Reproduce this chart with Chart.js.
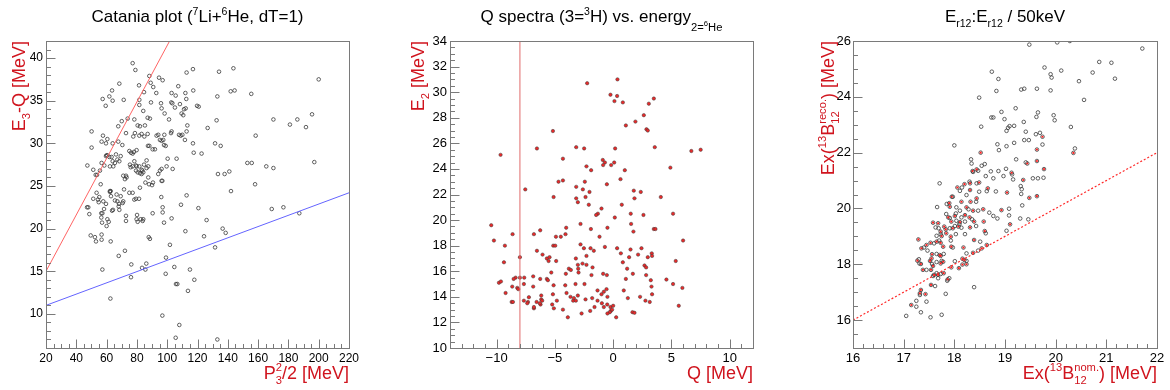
<!DOCTYPE html>
<html><head><meta charset="utf-8">
<script src="https://cdn.jsdelivr.net/npm/chart.js@4.4.1/dist/chart.umd.min.js"></script>
<style>
html,body{margin:0;padding:0;background:#fff;}
#wrap{position:relative;width:1170px;height:390px;overflow:hidden;}
canvas{position:absolute;top:0;}
</style></head><body>
<div id="wrap">
<canvas id="c1" width="390" height="390" style="left:0px"></canvas>
<canvas id="c2" width="390" height="390" style="left:390px"></canvas>
<canvas id="c3" width="390" height="390" style="left:780px"></canvas>
</div>
<script>
// ---------------- DATA ----------------
// Panel 1: Catania plot  [P3^2/2 (MeV), E3-Q (MeV)]
const catania = [
[57.4,35.2],[59.4,34.4],[61.8,35.5],[63.6,36.2],[64.0,35.0],[68.4,37.0],[71.3,35.1],[77.2,39.4],[79.0,38.6],[81.4,36.8],[81.6,35.1],[81.6,34.5],[84.7,36.0],[84.2,33.8],[88.2,37.9],[89.1,37.1],[88.6,32.9],[89.3,34.8],[90.8,36.6],[92.8,35.9],[94.6,37.7],[97.0,37.4],[95.9,34.7],[96.3,34.1],[98.3,33.5],[101.2,32.8],[102.9,35.9],[102.7,34.8],[103.4,34.7],[105.6,35.6],[105.1,34.2],[107.3,36.7],[108.4,34.6],[109.5,33.5],[110.6,33.3],[111.1,34.0],[112.6,35.2],[112.8,38.3],[112.0,35.9],[112.2,34.1],[113.3,32.1],[117.0,38.7],[117.2,36.2],[119.7,34.4],[120.8,34.3],[126.7,31.8],[132.6,32.7],[133.1,35.5],[134.2,38.4],[141.9,36.1],[143.7,38.8],[144.5,36.2],[155.5,35.8],[170.1,32.8],[181.0,32.2],[185.9,32.8],[191.6,31.9],[195.6,33.4],[200.0,37.5],
[67.7,32.0],[70.0,32.6],[73.9,32.9],[78.3,32.8],[80.5,32.1],[82.0,32.0],[85.3,32.1],[87.1,33.0],
[50.1,31.4],[50.1,29.5],[56.7,30.2],[57.6,30.9],[59.6,30.0],[60.5,30.5],[64.0,30.0],[67.7,30.2],[70.4,29.8],[72.8,31.2],[75.0,29.1],[76.1,28.9],[77.2,28.8],[78.1,29.0],[79.8,29.2],[78.7,31.2],[77.6,30.8],[81.6,30.9],[83.1,31.1],[84.9,30.8],[87.1,31.1],[87.3,29.7],[88.2,29.7],[90.4,29.3],[91.9,29.3],[93.0,30.9],[94.1,31.0],[95.2,30.4],[96.3,30.3],[97.4,30.4],[97.9,29.8],[98.1,31.0],[99.0,29.7],[100.3,28.2],[102.5,31.2],[102.9,31.4],[106.2,28.2],[107.8,31.0],[108.9,30.9],[110.0,31.0],[111.7,30.4],[112.8,31.4],[117.0,30.0],[117.5,28.9],[122.7,28.8],[131.6,30.0],[135.3,29.7],[158.4,30.9],
[47.3,27.4],[51.2,26.9],[52.8,26.3],[53.7,26.3],[55.6,26.8],[56.7,27.7],[58.5,27.4],[59.6,28.5],[60.0,28.6],[60.5,28.6],[61.8,28.4],[62.2,27.3],[63.3,28.4],[64.0,27.9],[64.4,27.3],[65.5,27.7],[66.2,28.7],[67.1,28.1],[68.4,27.9],[69.3,28.5],[71.0,26.2],[72.1,25.8],[72.8,26.2],[73.2,26.0],[75.4,27.5],[75.9,27.2],[77.2,27.3],[78.3,27.9],[79.4,27.4],[79.4,26.8],[79.8,27.3],[80.5,26.6],[81.6,27.3],[82.0,26.5],[83.1,26.4],[83.1,26.9],[83.6,26.8],[84.2,26.6],[84.7,27.5],[86.4,27.1],[87.5,26.0],[88.0,25.2],[90.0,25.1],[90.6,25.4],[87.5,27.3],[85.6,25.4],[94.1,26.4],[95.2,26.8],[96.3,27.0],[96.3,25.6],[96.8,25.6],[99.6,27.3],[103.6,27.0],[86.4,28.0],
[47.1,22.5],[47.9,22.5],[48.6,21.7],[51.2,23.5],[53.4,24.2],[54.3,23.4],[54.8,23.1],[55.2,23.7],[56.1,25.2],[56.5,21.8],[56.5,21.3],[57.0,20.7],[57.2,21.8],[57.8,23.2],[58.3,22.3],[59.6,22.9],[60.0,20.3],[60.5,21.1],[61.4,20.8],[62.2,24.4],[62.9,23.8],[63.6,22.1],[64.2,22.2],[65.5,23.3],[66.6,24.0],[67.1,23.2],[68.0,22.6],[68.2,22.9],[68.4,22.2],[69.3,23.8],[70.6,23.0],[71.0,23.2],[71.5,24.6],[72.8,20.9],[75.0,24.2],[77.2,24.2],[78.3,23.4],[79.4,23.5],[79.8,21.1],[80.1,21.6],[80.5,20.8],[81.4,23.5],[82.0,24.8],[82.5,21.1],[83.8,20.9],[84.2,21.1],[87.8,19.0],[88.6,18.8],[90.4,21.8],[96.1,23.7],[97.0,22.5],[97.0,21.9],[97.9,20.7],[101.8,18.1],[102.9,21.2],[109.1,22.8],[112.0,19.7],[112.8,23.9],[120.6,22.4],[124.3,19.1],[126.0,21.0],[131.6,17.8],[136.6,20.0],[138.6,19.5],[142.1,24.4],[152.9,27.7],[155.8,27.7],[158.0,25.2],[165.4,27.3],[170.1,27.1],[169.0,22.3],[176.7,22.5],[187.2,21.8],[197.1,27.8],[133.5,26.4],[137.9,26.4],[141.0,26.7],[72.8,21.5],[62.2,24.3],[62.7,24.4],
[49.5,19.2],[52.3,19.0],[53.0,18.5],[56.7,18.7],[56.7,19.3],[62.7,18.5],[68.0,16.8],[72.1,17.4],[99.2,16.6],
[57.2,15.2],[62.5,11.8],[76.3,15.8],[76.1,14.3],[83.4,15.4],[85.6,15.2],[86.2,15.9],[96.8,9.8],[99.0,14.7],[104.7,15.5],[105.8,13.5],[106.7,13.5],[108.0,8.7],[105.6,7.2],[113.7,12.7],[115.0,15.2],[117.9,14.0],[133.1,7.0]
];
const cataniaRedLine = [[20,15.0],[101.6,42.0]];
const cataniaBlueLine = [[20,11.0],[220,24.2]];
const cataniaXTicks = [20,40,60,80,100,120,140,160,180,200,220];
const cataniaYTicks = [10,15,20,25,30,35,40];

// Panel 2: Q spectra  [Q (MeV), E2 (MeV)]
const qSpectra = [
[-2.23,30.7],[0.37,31.0],[-0.23,29.8],[0.34,29.7],[0.11,29.3],[0.83,29.2],[3.06,29.1],[3.49,29.5],[2.63,28.2],[1.91,27.7],[1.09,27.4],[-5.17,26.96],[2.86,27.1],[2.97,27.0],
[-9.66,25.1],[-6.54,25.6],[-4.31,24.8],[-3.17,25.7],[-2.49,25.6],[0.17,25.6],[3.57,25.7],[6.71,25.4],[7.51,25.5],[-7.54,22.4],[-5.11,21.8],[-4.69,23.0],[-4.31,23.1],[-3.17,22.6],[-2.43,23.0],[-2.6,22.4],[-2.03,22.2],[-3.17,21.7],[-2.37,21.8],[-3.03,21.4],[-2.09,21.2],[-1.0,20.9],[-1.31,20.5],[-1.46,20.4],[-2.29,24.2],[-1.89,23.9],[-0.89,24.7],[-0.71,24.5],[-0.86,24.3],[-0.17,24.3],[0.09,24.5],[1.0,23.9],[0.63,23.2],[-0.54,22.8],[1.77,22.3],[2.37,22.2],[1.83,21.7],[4.09,21.8],[0.74,21.2],[0.14,20.2],[1.51,20.5],[2.6,20.4],[4.91,24.1],[5.14,20.5],
[-2.8,19.7],[-1.91,19.3],[-0.49,19.4],[1.54,19.7],[1.74,19.1],[3.49,19.3],[3.63,19.3],[-1.17,18.7],[-4.91,18.7],[-4.49,18.7],[-4.09,18.9],[-4.03,19.4],[-6.26,19.2],[-6.8,18.9],[-8.63,18.9],[-10.46,19.6],[-10.23,18.4],[-9.29,18.0],[-5.14,18.0],[-4.97,18.0],[-2.8,18.1],[-2.51,17.8],[-1.94,17.8],[-1.66,17.6],[-0.71,17.9],[0.34,17.8],[1.49,17.7],[2.43,17.8],[6.0,18.4],[-6.54,17.6],[-6.06,17.3],[-5.69,17.0],[-5.46,17.1],[-8.0,17.1],[-3.2,17.0],[-2.29,17.2],[0.66,17.4],[1.37,17.1],[2.14,17.3],[2.97,17.1],[3.31,17.4],[3.34,17.2],
[-9.37,16.7],[-5.54,16.8],[-4.89,16.8],[0.83,16.7],[5.37,16.8],[-4.06,15.8],[-3.8,16.2],[-3.63,16.1],[-3.03,16.5],[-3.0,16.2],[-2.97,15.9],[-2.63,16.6],[-2.29,16.5],[-1.77,16.3],[-1.86,15.7],[-0.86,15.8],[-0.54,15.7],[1.2,16.2],[1.69,15.8],[2.69,16.45],[2.83,16.3],[2.83,15.7],[3.23,15.3],[1.09,15.4],[-5.31,15.9],[-5.69,15.4],[-5.6,15.3],[-6.26,15.4],[-6.86,15.6],[-7.63,15.5],[-8.0,15.5],[-8.37,15.5],[-8.54,15.4],[-9.8,15.1],[-9.63,15.2],[-9.23,14.3],[-8.66,14.8],[-8.23,14.7],[-8.14,14.6],[-7.66,15.0],[-6.86,14.8],[-5.11,14.9],[-4.11,14.9],[-3.23,15.0],[-2.46,15.0],
[-5.17,14.2],[-4.83,13.7],[-4.0,14.3],[-3.66,14.0],[-3.43,13.7],[-3.37,13.9],[-3.2,13.7],[-3.03,14.1],[-2.37,13.8],[-1.8,13.9],[-1.34,14.5],[-1.0,14.2],[-0.8,14.4],[-0.57,14.6],[-0.49,14.0],[-1.34,13.7],[-0.97,13.5],[-0.8,13.2],[-0.51,13.4],[-0.23,13.2],[0.0,13.3],[-0.2,12.9],[-0.09,13.0],[-0.29,12.8],[-0.49,12.7],[0.26,12.4],[0.91,14.5],[1.26,13.9],[1.66,12.8],[1.83,12.75],[2.31,14.0],[2.77,13.7],[3.14,13.6],[3.29,14.8],[3.34,14.2],[4.57,15.35],[5.14,15.0],[5.94,14.7],[5.63,13.3],[-2.71,12.7],[-1.97,12.9],[-1.6,13.2],[-3.89,12.4],[-4.31,13.0],[-5.09,13.1],[-5.23,13.4],[-6.23,13.4],[-6.29,13.5],[-6.57,13.6],[-6.8,13.1],[-6.8,13.2],[-7.31,13.6],[-7.23,13.97],[-7.66,13.7],[-7.37,13.5],[-8.71,13.6],[-8.6,13.6],[-6.17,13.8],[-6.09,13.7],[-6.17,14.1]
];
const qCutLine = [[-8,10],[-8,34]];
const qXTicks = [-10,-5,0,5,10];
const qYTicks = [10,12,14,16,18,20,22,24,26,28,30,32,34];

// Panel 3: Er12 vs Er12  [Ex nominal, Ex reconstructed, red-dot flag]
const exPoints = [
[18.49,23.97,0],[18.53,22.93,0],[18.74,24.9,0],[18.87,24.64,0],[18.83,24.21,0],[18.93,23.46,0],[18.73,23.26,0],[18.77,23.26,0],[18.99,23.2,0],[19.09,22.95,0],[19.06,22.89,0],[19.18,22.96,0],[19.21,23.59,0],[19.32,24.26,0],[19.38,24.29,0],[19.37,23.1,0],[19.48,25.87,0],[19.63,24.29,0],[19.62,23.28,0],[19.65,23.44,0],[19.78,25.05,0],[19.9,24.81,0],[19.92,24.69,0],[19.9,24.23,0],[19.96,23.34,0],[19.98,23.16,0],[20.03,25.95,0],[20.11,24.94,0],[20.28,26.0,0],[20.3,22.92,0],[20.46,24.56,0],[20.56,23.89,0],[20.73,24.87,0],[20.86,25.25,0],[21.1,25.22,0],[21.17,24.65,0],[21.71,25.73,0],
[18.0,22.26,0],[18.52,22.0,1],[18.85,22.3,0],[18.88,22.09,0],[19.03,22.23,0],[19.18,22.35,0],[19.38,22.45,0],[19.47,22.45,0],[19.61,22.66,0],[19.69,22.71,0],[19.74,22.57,1],[19.74,22.29,0],[19.63,22.11,1],[19.03,22.78,0],[19.41,22.75,0],[20.35,21.99,1],[20.38,22.15,0],
[18.33,21.76,0],[18.34,21.61,0],[18.54,21.53,0],[18.6,21.59,0],[18.36,21.34,1],[18.37,21.31,0],[18.44,21.4,1],[18.47,21.35,0],[18.62,21.16,0],[18.72,21.33,0],[18.77,21.08,0],[18.87,21.34,0],[18.97,21.16,0],[19.02,21.42,0],[19.13,21.28,1],[19.14,21.22,0],[19.16,21.04,0],[19.22,21.76,0],[19.41,21.65,0],[19.44,21.61,1],[19.63,21.7,1],[19.65,21.08,0],[19.55,21.08,0],[19.76,21.1,0],[19.77,21.41,1],[19.36,21.02,1],
[17.71,20.9,0],[18.06,20.75,1],[18.11,20.63,0],[18.15,20.75,0],[18.2,20.87,1],[18.31,20.9,1],[18.31,20.66,1],[18.3,20.96,0],[18.44,20.9,0],[18.49,20.93,1],[18.49,20.6,0],[18.64,20.62,0],[18.66,20.72,1],[18.82,20.61,0],[19.04,20.57,1],[19.31,20.8,0],[19.33,20.69,0],[19.32,20.52,0],[19.48,20.38,1],[19.63,20.44,1],[19.34,20.11,0],
[17.95,20.42,1],[17.97,20.42,0],[18.24,20.48,0],[18.44,20.36,1],[18.43,20.24,0],[18.32,20.24,1],[18.14,20.24,1],[17.9,20.19,1],[17.85,20.16,0],[17.91,20.06,1],[17.66,20.05,0],[18.04,20.04,0],[18.11,19.92,0],[18.24,20.04,1],[18.28,19.97,0],[18.37,19.92,1],[18.47,19.92,0],[18.57,19.97,1],[18.03,19.82,0],[18.01,19.73,1],[18.14,19.68,0],[18.21,19.76,1],[17.84,19.8,0],[17.88,19.68,1],[17.91,19.66,0],[17.94,19.53,1],[18.04,19.56,0],[18.11,19.51,1],[18.21,19.53,0],[18.3,19.68,1],[18.35,19.61,0],[18.39,19.53,1],[18.58,19.53,1],[18.69,19.85,0],[18.77,19.73,0],[18.85,19.64,0],[18.93,19.94,1],[19.08,19.99,0],[19.08,19.75,0],[19.3,19.64,0],[19.46,19.61,0],[19.1,19.43,1],
[17.58,19.49,1],[17.68,19.47,1],[17.69,19.29,0],[17.73,19.17,1],[17.63,19.32,0],[17.8,19.35,1],[17.83,19.25,1],[17.91,19.29,0],[17.97,19.29,1],[18.01,19.37,0],[18.08,19.35,1],[18.14,19.31,0],[18.1,19.44,0],[17.84,19.11,1],[17.73,19.08,0],[17.75,19.01,1],[17.65,19.02,0],[17.93,18.99,1],[18.03,19.08,0],[18.21,19.08,0],[18.31,19.32,1],[18.43,19.37,0],[18.6,19.19,1],[18.62,19.11,0],[19.03,19.2,0],
[17.29,18.89,1],[17.35,18.57,1],[17.4,18.6,0],[17.45,18.69,1],[17.53,18.77,1],[17.6,18.75,0],[17.65,18.81,1],[17.7,18.85,0],[17.73,18.77,1],[17.78,18.63,1],[17.93,18.85,0],[17.94,18.63,1],[17.97,18.6,0],[18.18,18.6,1],[18.39,18.87,1],[18.51,18.81,0],[18.54,18.57,1],[18.64,18.69,1],[17.47,18.49,0],[17.56,18.36,1],[17.65,18.37,0],[17.71,18.33,1],[17.73,18.3,1],[17.79,18.37,0],[18.24,18.39,0],[18.37,18.41,1],[18.47,18.49,0],[17.3,18.18,0],[17.55,18.21,1],[18.16,18.2,1],
[17.27,18.13,1],[17.31,18.03,0],[17.34,18.01,1],[17.52,18.12,1],[17.56,18.01,0],[17.58,17.94,1],[17.65,18.08,0],[17.73,18.03,1],[17.75,18.12,0],[17.78,18.09,1],[18.01,18.11,0],[18.2,18.15,1],[18.24,18.12,0],[18.24,18.0,1],[18.16,17.99,1],
[17.38,17.8,1],[17.45,17.8,0],[17.54,17.8,1],[17.6,17.62,1],[17.65,17.68,0],[17.68,17.62,1],[17.73,17.65,0],[17.79,17.68,1],[17.58,17.58,0],[17.68,17.5,0],[17.87,17.46,1],[17.9,17.5,0],[17.94,17.89,1],[18.09,17.86,1],[17.86,17.41,0],[17.54,17.26,1],[17.62,17.22,0],[17.34,17.08,1],[17.32,16.96,1],[17.32,16.9,0],[17.43,16.93,1],[17.83,16.94,0],[18.39,17.18,0],[17.25,16.69,0],[17.45,16.66,0],[17.15,16.54,1],[17.25,16.48,0],[17.34,16.28,0],[17.05,16.15,0],[17.53,16.1,0],[17.75,16.19,0]
];
const exDiagonal = [[16,16],[22,22]];
const exXTicks = [16,17,18,19,20,21,22];
const exYTicks = [16,18,20,22,24,26];

// ---------------- TEXT ----------------
const N = t => [t, 1, 0];
const SUP = t => [t, 0.62, -0.42];
const SUB = t => [t, 0.62, 0.3];
const titles = {
  catania: [N('Catania plot ('), SUP('7'), N('Li+'), SUP('6'), N('He, dT=1)')],
  qspec: [N('Q spectra (3='), SUP('3'), N('H) vs. energy'), ['2=', 0.66, 0.52], ['6', 0.45, 0.22], ['He', 0.66, 0.52]],
  ex: [N('E'), SUB('r12'), N(':E'), SUB('r12'), N(' / 50keV')]
};
const axisTitles = {
  catX: [N('P'), {stack: [SUP('2'), SUB('3')]}, N('/2 [MeV]')],
  catY: [N('E'), SUB('3'), N('-Q [MeV]')],
  qX: [N('Q [MeV]')],
  qY: [N('E'), SUB('2'), N(' [MeV]')],
  exX: [N('Ex('), SUP('13'), N('B'), {stack: [SUP('nom.'), SUB('12')]}, N(') [MeV]')],
  exY: [N('Ex('), SUP('13'), N('B'), {stack: [SUP('reco.'), SUB('12')]}, N(') [MeV]')]
};

// ---------------- DRAWING ----------------
const FONT = "'Liberation Sans', Arial, Helvetica, sans-serif";
function segW(ctx, seg, size) {
  if (seg.stack) return Math.max(...seg.stack.map(s => segW(ctx, s, size)));
  ctx.font = (size * seg[1]) + 'px ' + FONT;
  return ctx.measureText(seg[0]).width;
}
function drawSeg(ctx, seg, x, size) {
  if (seg.stack) { seg.stack.forEach(s => drawSeg(ctx, s, x, size)); return; }
  ctx.font = (size * seg[1]) + 'px ' + FONT;
  ctx.fillText(seg[0], x, seg[2] * size);
}
function drawRich(ctx, segs, x, y, o) {
  ctx.save();
  ctx.translate(x, y);
  if (o.rotate) ctx.rotate(o.rotate);
  ctx.fillStyle = o.color; ctx.textBaseline = 'alphabetic'; ctx.textAlign = 'left';
  const w = segs.map(s => segW(ctx, s, o.size));
  const total = w.reduce((a, b) => a + b, 0);
  let cx = o.align === 'right' ? -total : (o.align === 'center' ? -total / 2 : 0);
  segs.forEach((s, i) => { drawSeg(ctx, s, cx, o.size); cx += w[i]; });
  ctx.restore();
}

const rootPlugin = {
  id: 'rootFrame',
  afterDraw(chart, args, o) {
    const ctx = chart.ctx, a = chart.chartArea, xs = chart.scales.x, ys = chart.scales.y;
    ctx.save();
    ctx.strokeStyle = '#7a7a7a'; ctx.lineWidth = 1;
    const L = Math.round(a.left) + 0.5, T = Math.round(a.top) + 0.5;
    const R = Math.round(a.right) + 0.5, B = Math.round(a.bottom) + 0.5;
    ctx.strokeRect(L, T, R - L, B - T);
    ctx.beginPath();
    const majX = new Set(xs.ticks.map(t => t.value.toFixed(4)));
    for (let i = 0; ; i++) {
      const v = xs.min + i * o.minorX;
      if (v > xs.max + 1e-9) break;
      const px = Math.round(xs.getPixelForValue(v)) + 0.5;
      const len = majX.has(v.toFixed(4)) ? 9 : 4.5;
      ctx.moveTo(px, B); ctx.lineTo(px, B - len);
    }
    const majY = new Set(ys.ticks.map(t => t.value.toFixed(4)));
    for (let i = 0; ; i++) {
      const v = ys.min + i * o.minorY;
      if (v > ys.max + 1e-9) break;
      const py = Math.round(ys.getPixelForValue(v)) + 0.5;
      const len = majY.has(v.toFixed(4)) ? 9 : 4.5;
      ctx.moveTo(L, py); ctx.lineTo(L + len, py);
    }
    ctx.stroke();
    ctx.restore();
    drawRich(ctx, o.title, (a.left + a.right) / 2, 22, {size: 17, color: '#000', align: 'center'});
    drawRich(ctx, o.xTitle, a.right, 379, {size: 18, color: '#d0141e', align: 'right'});
    drawRich(ctx, o.yTitle, o.yTitleX, a.top, {size: 18, color: '#d0141e', align: 'right', rotate: -Math.PI / 2});
  }
};

const fmt = v => (v < 0 ? '\u2212' + Math.abs(v) : String(v));
const pts = arr => arr.map(p => ({x: p[0], y: p[1]}));

function mk(id, c) {
  return new Chart(document.getElementById(id), {
    type: 'scatter',
    data: {datasets: c.datasets},
    options: {
      responsive: false, animation: false, devicePixelRatio: 1,
      layout: {padding: {left: 0, right: 390 - c.R, top: 41, bottom: 0}},
      plugins: {legend: {display: false}, tooltip: {enabled: false}, title: {display: false}, rootFrame: c.frame},
      scales: {
        x: {type: 'linear', min: c.xMin, max: c.xMax,
          grid: {display: false, drawTicks: false}, border: {display: false},
          afterBuildTicks: s => { s.ticks = c.xTicks.map(v => ({value: v})); },
          afterFit: s => { s.height = 42; },
          ticks: {font: {family: FONT, size: c.tickSize}, color: '#000', padding: 3, maxRotation: 0, autoSkip: false, callback: fmt}},
        y: {type: 'linear', min: c.yMin, max: c.yMax,
          grid: {display: false, drawTicks: false}, border: {display: false},
          afterBuildTicks: s => { s.ticks = c.yTicks.map(v => ({value: v})); },
          afterFit: s => { s.width = c.L; },
          ticks: {font: {family: FONT, size: c.tickSize}, color: '#000', padding: c.yPad, autoSkip: false, callback: fmt}}
      }
    },
    plugins: [rootPlugin]
  });
}

const lineDs = (data, color, dash, width) => ({type: 'line', data: pts(data), borderColor: color, borderWidth: width || 1,
  borderDash: dash || [], pointRadius: 0, fill: false, showLine: true, order: 0});

mk('c1', {
  L: 46, R: 349, xMin: 20, xMax: 220, yMin: 6, yMax: 42, xTicks: cataniaXTicks, yTicks: cataniaYTicks, tickSize: 12, yPad: 3,
  frame: {minorX: 5, minorY: 1, title: titles.catania, xTitle: axisTitles.catX, yTitle: axisTitles.catY, yTitleX: 25},
  datasets: [
    {data: pts(catania), pointRadius: 1.8, pointBackgroundColor: 'rgba(0,0,0,0)', pointBorderColor: '#3a3a3a', pointBorderWidth: 0.8, order: 1},
    lineDs(cataniaRedLine, '#ff6464'),
    lineDs(cataniaBlueLine, '#6464ff')
  ]
});
mk('c2', {
  L: 60, R: 363, xMin: -14, xMax: 12, yMin: 10, yMax: 34, xTicks: qXTicks, yTicks: qYTicks, tickSize: 13, yPad: 3,
  frame: {minorX: 1, minorY: 0.5, title: titles.qspec, xTitle: axisTitles.qX, yTitle: axisTitles.qY, yTitleX: 34},
  datasets: [
    {data: pts(qSpectra), pointRadius: 1.7, pointBackgroundColor: '#e82a2a', pointBorderColor: '#3a3a3a', pointBorderWidth: 0.5, order: 1},
    lineDs(qCutLine, '#e06a6a')
  ]
});
mk('c3', {
  L: 73, R: 377, xMin: 16, xMax: 22, yMin: 15, yMax: 26, xTicks: exXTicks, yTicks: exYTicks, tickSize: 13, yPad: 2,
  frame: {minorX: 0.2, minorY: 0.5, title: titles.ex, xTitle: axisTitles.exX, yTitle: axisTitles.exY, yTitleX: 54},
  datasets: [
    {data: pts(exPoints), pointRadius: 1.8, pointBackgroundColor: 'rgba(0,0,0,0)', pointBorderColor: '#3a3a3a', pointBorderWidth: 0.8, order: 2},
    {data: pts(exPoints.filter(p => p[2] === 1)), pointRadius: 1.1, pointBackgroundColor: '#ff2020', pointBorderWidth: 0, order: 1},
    lineDs(exDiagonal, '#ff2a2a', [2, 2], 1.2)
  ]
});
</script>
</body></html>
